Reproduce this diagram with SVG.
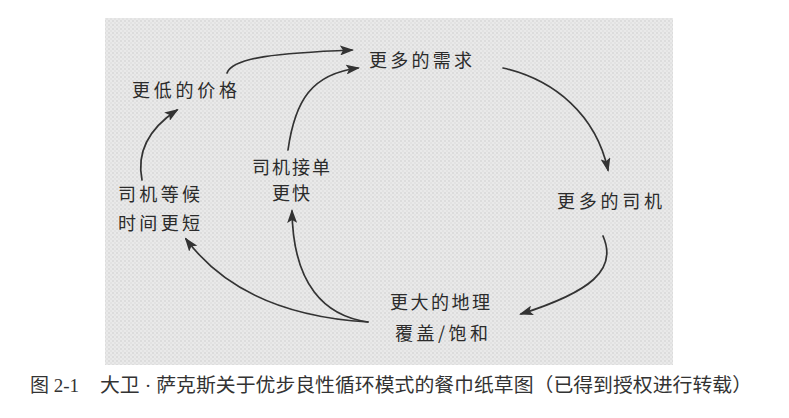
<svg xmlns="http://www.w3.org/2000/svg" width="789" height="418" viewBox="0 0 789 418">
  <style>
    .hand { font-family: "Noto Sans CJK SC", "Noto Sans", sans-serif; font-size: 18px; fill: #2b2b2b; }
    .cap { font-family: "Liberation Serif", "Noto Sans CJK SC", serif; font-size: 19px; fill: #333; }
    .link { fill: none; stroke: #333; stroke-width: 1.7; stroke-linecap: round; marker-end: url(#head); }
  </style>
  <defs>
    <marker id="head" viewBox="0 0 14 10" refX="12" refY="5" markerWidth="14" markerHeight="10" markerUnits="userSpaceOnUse" orient="auto">
      <path d="M0,0 L14,5 L0,10 L3,5 Z" fill="#333"/>
    </marker>
    <!-- napkin weave -->
    <pattern id="weave" width="4" height="4" patternUnits="userSpaceOnUse">
      <rect width="4" height="4" fill="#e9e9e9"/>
      <rect width="2" height="2" fill="#dcdcdc"/>
      <rect x="2" y="2" width="2" height="2" fill="#e2e2e2"/>
    </pattern>
  </defs>

  <rect width="789" height="418" fill="#fff"/>
  <rect id="napkin" x="105" y="18" width="568" height="347" fill="url(#weave)"/>

  <g id="connectors">
    <path class="link" d="M227,73 C233,57 280,53 352,50"/>
    <path class="link" d="M288,150 C295,100 312,74 358,68"/>
    <path class="link" d="M142,180 C136,150 150,128 177,110"/>
    <path class="link" d="M503,68 C555,80 596,115 608,170"/>
    <path class="link" d="M603,236 C618,270 590,292 521,314"/>
    <path class="link" d="M368,322 C300,318 230,298 186,239"/>
    <path class="link" d="M368,322 C325,316 293,285 292,211"/>
  </g>

  <g id="more-demand"><text class="hand" x="369" y="66.5" textLength="103" lengthAdjust="spacing">更多的需求</text></g>
  <g id="lower-price"><text class="hand" x="132" y="96.5" textLength="105" lengthAdjust="spacing">更低的价格</text></g>
  <g id="shorter-wait">
    <text class="hand" x="118" y="200.5" textLength="82" lengthAdjust="spacing">司机等候</text>
    <text class="hand" x="118" y="229.5" textLength="82" lengthAdjust="spacing">时间更短</text>
  </g>
  <g id="faster-pickup">
    <text class="hand" x="252" y="173.5" textLength="78" lengthAdjust="spacing">司机接单</text>
    <text class="hand" x="272" y="200" textLength="38" lengthAdjust="spacing">更快</text>
  </g>
  <g id="more-drivers"><text class="hand" x="557" y="207.5" textLength="105" lengthAdjust="spacing">更多的司机</text></g>
  <g id="coverage">
    <text class="hand" x="390" y="308.5" textLength="100" lengthAdjust="spacing">更大的地理</text>
    <text class="hand" x="395" y="339.5" textLength="93" lengthAdjust="spacing">覆盖/饱和</text>
  </g>

  <g id="caption">
    <text class="cap" x="30" y="392">图 2-1</text>
    <text class="cap" x="100" y="392" textLength="652" lengthAdjust="spacingAndGlyphs">大卫 · 萨克斯关于优步良性循环模式的餐巾纸草图（已得到授权进行转载）</text>
  </g>
</svg>
